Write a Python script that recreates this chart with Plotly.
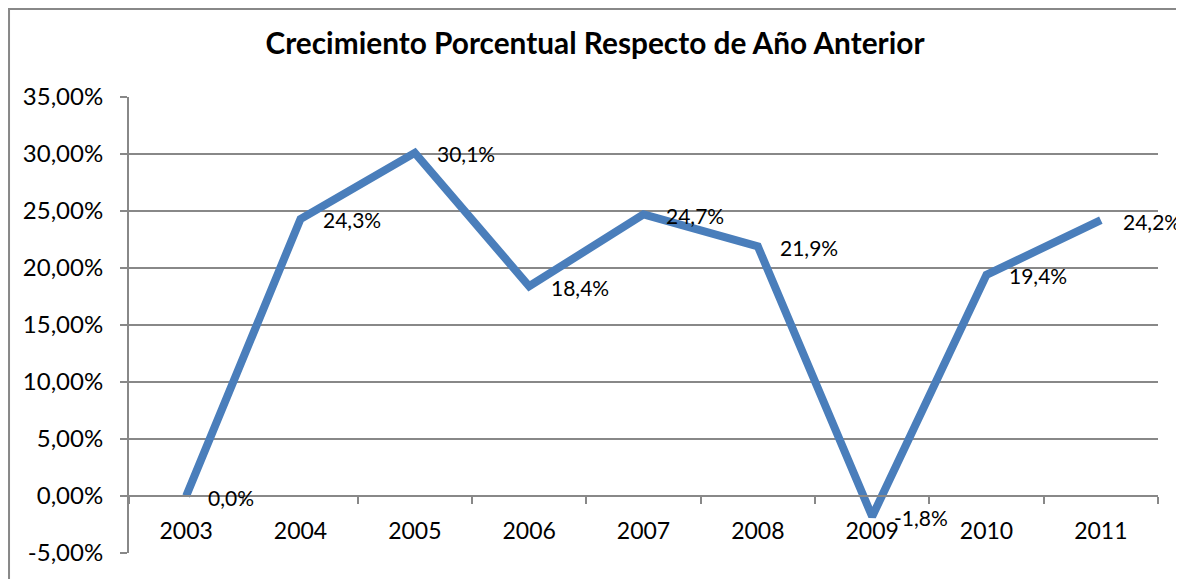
import plotly.graph_objects as go

years = ['2003', '2004', '2005', '2006', '2007', '2008', '2009', '2010', '2011']
growth = [0.0, 0.243, 0.301, 0.184, 0.247, 0.219, -0.018, 0.194, 0.242]
point_labels = ['0,0%', '24,3%', '30,1%', '18,4%', '24,7%', '21,9%', '-1,8%', '19,4%', '24,2%']
y_ticks = [-0.05, 0.0, 0.05, 0.10, 0.15, 0.20, 0.25, 0.30, 0.35]
y_tick_labels = ['-5,00%', '0,00%', '5,00%', '10,00%', '15,00%', '20,00%',
                 '25,00%', '30,00%', '35,00%']

GRAY = '#888888'
FONT = 'Lato'

# page body adds an 8px offset, so the figure is 8px smaller than the window
W, H = 1176, 571
ML, MR, MT, MB = 121, 26, 89, 26
pw, ph = W - ML - MR, H - MT - MB

fig = go.Figure()
fig.add_trace(go.Scatter(x=years, y=growth, mode='lines',
                         line=dict(color='#4A7EBB', width=8),
                         hoverinfo='skip', showlegend=False))

# data labels to the right of each point (x given as category index)
for i, (val, lab) in enumerate(zip(growth, point_labels)):
    fig.add_annotation(x=i, y=val, text=lab, showarrow=False,
                       xanchor='left', yanchor='middle', xshift=20, yshift=-1,
                       font=dict(family=FONT, size=21, color='black'))

# outer chart border
fig.add_shape(type='rect', xref='paper', yref='paper',
              x0=-ML / pw + 0.001, x1=1.1, y0=-0.2, y1=1 + MT / ph - 0.002,
              line=dict(color=GRAY, width=2), layer='below')

fig.update_layout(
    width=W, height=H,
    margin=dict(l=ML, r=MR, t=MT, b=MB),
    paper_bgcolor='white', plot_bgcolor='white',
    title=dict(text='<b>Crecimiento Porcentual Respecto de Año Anterior</b>',
               x=0.5 - 1 / W, xref='container', y=1 - 36 / H, yref='container',
               xanchor='center', yanchor='middle',
               font=dict(family=FONT, size=29.8, color='black')),
    xaxis=dict(type='category', range=[-0.5, 8.5], anchor='free', position=0.125,
               automargin=False,
               showgrid=False, showline=True, linecolor=GRAY, linewidth=2,
               ticks='outside', tickson='boundaries', ticklen=7,
               tickcolor=GRAY, tickwidth=2, ticklabelstandoff=14,
               tickfont=dict(family=FONT, size=23, color='black')),
    yaxis=dict(range=[-0.05, 0.35], tickvals=y_ticks, ticktext=y_tick_labels,
               automargin=False,
               showgrid=True, gridcolor=GRAY, gridwidth=2, zeroline=False,
               showline=True, linecolor=GRAY, linewidth=2,
               ticks='outside', ticklen=7, tickcolor=GRAY, tickwidth=2,
               ticklabelstandoff=12,
               tickfont=dict(family=FONT, size=24, color='black')),
)

fig.write_html('out.html')
